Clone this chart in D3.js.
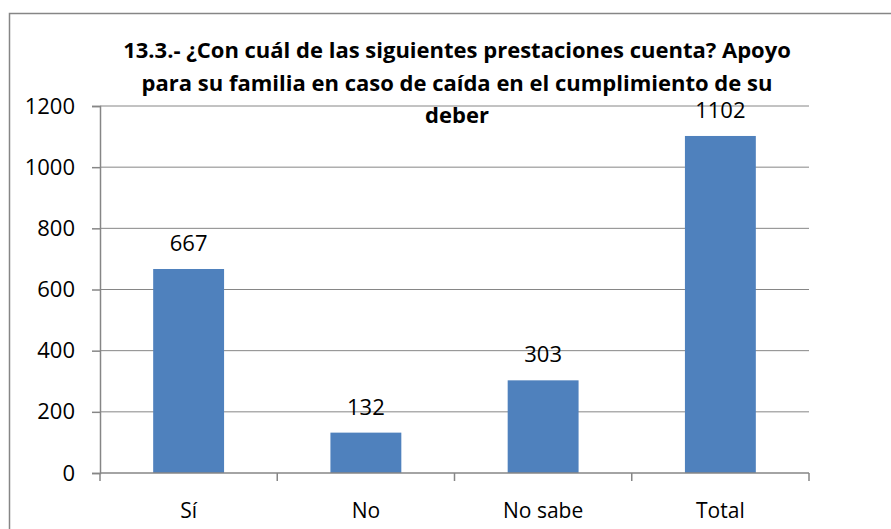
<!DOCTYPE html>
<html>
<head>
<meta charset="utf-8">
<script src="https://cdn.jsdelivr.net/npm/d3@7"></script>
<style>
  body { margin: 0; background: #fff; }
  text { font-family: "Open Sans", "Liberation Sans", sans-serif; fill: #000; }
</style>
</head>
<body>
<div id="chart"></div>
<script>
// chart data
const categories = ["Sí", "No", "No sabe", "Total"];
const values = [667, 132, 303, 1102];
const yTicks = [0, 200, 400, 600, 800, 1000, 1200];
const titleLines = [
  "13.3.- ¿Con cuál de las siguientes prestaciones cuenta? Apoyo",
  "para su familia en caso de caída en el cumplimiento de su",
  "deber"
];

function bar(id) {
  const div = d3.select(`#${id}`);
  div.selectAll("*").remove();

  const width = 891;
  const height = 529;
  const margin = { left: 100, right: 82, top: 106, bottom: 56 };
  const innerW = width - margin.left - margin.right;
  const innerH = height - margin.top - margin.bottom;
  const svg = div.append("svg").attr("width", width).attr("height", height);

  // outer frame of the chart
  svg.append("rect")
    .attr("x", 9.5).attr("y", 13.5)
    .attr("width", 900).attr("height", 600)
    .attr("fill", "none")
    .attr("stroke", "#868686")
    .attr("stroke-width", 1.5);

  const ChartArea = svg.append("g")
    .attr("transform", `translate(${margin.left},${margin.top})`);

  const x = d3.scaleBand().domain(categories).range([0, innerW]).padding(0);
  const y = d3.scaleLinear().domain([0, 1200]).range([innerH, 0]);
  const barW = x.bandwidth() * 0.4;

  // gridlines
  ChartArea.selectAll(".grid")
    .data(yTicks.filter(d => d > 0))
    .join("line")
    .attr("class", "grid")
    .attr("x1", 0).attr("x2", innerW)
    .attr("y1", d => y(d)).attr("y2", d => y(d))
    .attr("stroke", "#868686")
    .attr("stroke-width", 1);

  // bars
  ChartArea.selectAll(".bar")
    .data(values)
    .join("rect")
    .attr("class", "bar")
    .attr("x", (d, i) => x(categories[i]) + (x.bandwidth() - barW) / 2)
    .attr("y", d => y(d))
    .attr("width", barW)
    .attr("height", d => innerH - y(d))
    .attr("fill", "#4F81BD");

  // y axis
  const AxisYLeft = ChartArea.append("g")
    .call(d3.axisLeft(y).tickValues(yTicks).tickFormat(d3.format("d")).tickSize(8).tickPadding(17));
  AxisYLeft.select(".domain").attr("stroke", "#868686").attr("stroke-width", 1.5);
  AxisYLeft.selectAll(".tick line").attr("stroke", "#868686").attr("stroke-width", 1.5);
  AxisYLeft.selectAll("text").style("font-size", "22px").attr("fill", "#000");

  // x axis with ticks between categories
  const AxisX = ChartArea.append("g").attr("transform", `translate(0,${innerH})`);
  AxisX.append("line")
    .attr("x1", 0).attr("x2", innerW)
    .attr("stroke", "#868686").attr("stroke-width", 1.5);
  const edges = categories.map(c => x(c)).concat([innerW]);
  AxisX.selectAll(".xtick")
    .data(edges)
    .join("line")
    .attr("class", "xtick")
    .attr("x1", d => d).attr("x2", d => d)
    .attr("y1", 0).attr("y2", 8)
    .attr("stroke", "#868686").attr("stroke-width", 1.5);
  AxisX.selectAll(".xlabel")
    .data(categories)
    .join("text")
    .attr("class", "xlabel")
    .attr("x", d => x(d) + x.bandwidth() / 2)
    .attr("y", 45)
    .attr("text-anchor", "middle")
    .style("font-size", "21px")
    .text(d => d);

  // value labels
  ChartArea.selectAll(".vlabel")
    .data(values)
    .join("text")
    .attr("class", "vlabel")
    .attr("x", (d, i) => x(categories[i]) + x.bandwidth() / 2)
    .attr("y", d => y(d) - 18)
    .attr("text-anchor", "middle")
    .style("font-size", "22px")
    .text(d => d);

  // title
  svg.selectAll(".title")
    .data(titleLines)
    .join("text")
    .attr("class", "title")
    .attr("x", 457)
    .attr("y", (d, i) => 58 + i * 32.5)
    .attr("text-anchor", "middle")
    .style("font-size", "22px")
    .style("font-weight", "bold")
    .text(d => d);
}

bar("chart");
</script>
</body>
</html>
